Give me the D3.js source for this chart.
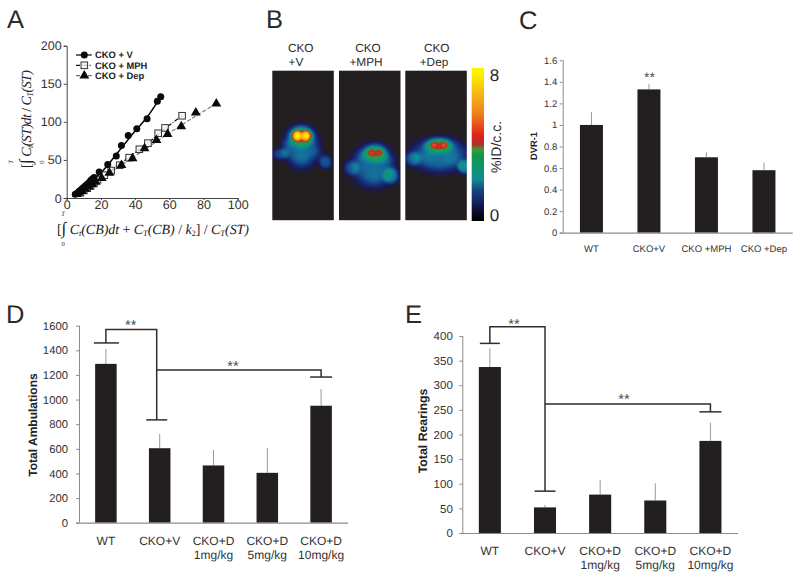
<!DOCTYPE html>
<html><head><meta charset="utf-8">
<script src="https://cdn.jsdelivr.net/npm/d3@7/dist/d3.min.js"></script>
<style>
html,body{margin:0;padding:0;background:#fff}
svg{display:block}
text{font-family:"Liberation Sans",Arial,sans-serif;fill:#333;text-rendering:geometricPrecision}
.math text,text.math{font-family:"Liberation Serif",serif;fill:#222}
</style></head><body>
<svg id="c" width="800" height="579"></svg>
<script>
// Panel A
const ticksAx=[0,20,40,60,80,100], ticksAy=[0,50,100,150,200];
const seriesA=["CKO + V","CKO + MPH","CKO + Dep"];
const ptsV=[[55,133],[53,127],[47,104],[41,91],[36,82],[32,69],[29,55],[24,44],[19,34],[16,27],[15,25],[14,23],[13,20],[12,18],[11,16],[10,14],[9,12],[8,10],[7,8],[6,6],[5,5]];
const ptsM=[[67.5,108],[57.5,92],[53.5,85],[47.5,72],[42.5,64],[36.5,53],[31,43],[26,36],[22,30],[18,24],[16,20],[14,16],[12,13],[10,10],[8,7]];
const ptsD=[[87.5,124],[75.5,112],[67,94],[59,84],[52.5,76],[45.5,65],[38.5,52],[32,43],[25,33],[20.5,26],[17,21],[15,18],[13,15],[11,12],[9,9],[7,7],[6,5]];
const lineV=[[5,5],[20,33],[30,60],[40,88],[47,106],[55,133]];
const lineM=[[7,6],[20,26],[36,53],[48,73],[58,92],[67.5,108]];
const lineD=[[6,5],[20,25],[38,52],[59,84],[75,107],[87.5,124]];
// Panel B: image-space blobs [x, y, rx, ry, level, sharpness]
const petTitles=[["CKO","+V"],["CKO","+MPH"],["CKO","+Dep"]];
const petBlobs=[
 [[24.4,64.6,4.5,5,.46,3],[33.7,64.6,4.5,5,.46,3],[29,65,11,6.5,.1,4],[29,65,12,11,.22,4],[29,76,18,20,.23,4],[29,90,9,9,.04,2],[20,62,8,7,.03,2],[8,83,8,5.5,.17,4],[53,91,6.5,7,.19,4],[45,82,6,6,.04,4],[14,74,6,6,.05,4]],
 [[31.7,81.3,3.3,3.2,.12,3],[40.3,81.3,3.3,3.2,.12,3],[36,81.5,9.5,5.5,.1,4],[36,82,12.5,9.5,.2,4],[34,95,21,21,.23,4],[37,108,10,8,.03,2],[12,97,8,7.5,.15,4],[52,105,8,8,.21,4],[22,85,6,6,.04,4],[48,88,6,6,.04,4]],
 [[28,73.6,3.2,2.8,.12,3],[38.7,73.6,3.2,2.8,.12,3],[33.3,73.8,10,5,.1,4],[33.3,74.3,14,8,.22,4],[34,84,28,17,.24,4],[20,85,9,6,.03,2],[7,88,8,7,.16,4],[59,96,7,7,.26,4],[46,88,8,6,.03,4]]
];
const cbarStops=[0,.06,.14,.22,.3,.38,.47,.52,.58,.7,.85,1];
const cbarColors=["#231f20","#1a1a55","#15367f","#17649a","#0f8f96","#0f9d60","#2aa14a","#a8362c","#e2231a","#ee8a1c","#f9c20a","#fff200"];
const cbarLabels=["0","8"];
// Panel C
const catC=["WT","CKO+V","CKO +MPH","CKO +Dep"];
const valC=[1,1.33,.70,.58], errC=[1.12,1.38,.745,.65];
const ticksC=[0,.2,.4,.6,.8,1,1.2,1.4,1.6];
// Panel D / E
const catDE=[["WT"],["CKO+V"],["CKO+D","1mg/kg"],["CKO+D","5mg/kg"],["CKO+D","10mg/kg"]];
const valD=[1290,605,465,405,950], errD=[1410,720,590,605,1085];
const ticksD=[0,200,400,600,800,1000,1200,1400,1600];
const valE=[337,52,78,66,187], errE=[375,57,108,101,224];
const ticksE=[0,50,100,150,200,250,300,350,400];

const svg=d3.select("#c");
const GREY="#8c8c8c",BAR="#231f20";

function letter(t,x,y){svg.append("text").attr("x",x).attr("y",y).attr("font-size",25.5).style("fill","#2a2a2a").text(t);}
letter("A",7,28);letter("B",266,28);letter("C",519,29);letter("D",6,323);letter("E",405,323);

/* ---------- A ---------- */
(function(){
 const x=d3.scaleLinear().domain([0,100]).range([66.7,237.7]);
 const y=d3.scaleLinear().domain([0,200]).range([198,45.7]);
 const g=svg.append("g");
 const ax=g.append("g").attr("transform","translate(0,198)").call(d3.axisBottom(x).tickValues(ticksAx).tickSize(2).tickPadding(0));
 const ay=g.append("g").attr("transform","translate(66.7,0)").call(d3.axisLeft(y).tickValues(ticksAy).tickSize(3).tickPadding(2));
 [ax,ay].forEach(a=>{a.selectAll("path,line").attr("stroke","#444").attr("stroke-width",1);a.selectAll("text").attr("font-size",12.5).style("fill","#333").attr("font-family","Liberation Sans");});
 const ln=d3.line().x(d=>x(d[0])).y(d=>y(d[1])).curve(d3.curveCatmullRom);
 g.append("path").attr("d",ln(lineD)).attr("fill","none").attr("stroke","#4f7f66").attr("stroke-width",1.1).attr("stroke-dasharray","4 2");
 g.append("path").attr("d",ln(lineM)).attr("fill","none").attr("stroke","#111").attr("stroke-width",1.2).attr("stroke-dasharray","4 1.5 1 1.5");
 g.append("path").attr("d",ln(lineV)).attr("fill","none").attr("stroke","#000").attr("stroke-width",1.5);
 const tri=d3.symbol().type(d3.symbolTriangle).size(42)();
 const sq=(s,px,py)=>s.append("rect").attr("x",px-3.3).attr("y",py-3.3).attr("width",6.6).attr("height",6.6).attr("fill","#f4f4f4").attr("fill-opacity",.8).attr("stroke","#333").attr("stroke-width",1);
 ptsM.forEach(d=>sq(g,x(d[0]),y(d[1])));
 g.selectAll(".t").data(ptsD).join("path").attr("d",tri).attr("fill","#0a0a0a").attr("transform",d=>`translate(${x(d[0])},${y(d[1])})`);
 g.selectAll(".c").data(ptsV).join("circle").attr("cx",d=>x(d[0])).attr("cy",d=>y(d[1])).attr("r",3.5).attr("fill","#0a0a0a");
 // legend
 const ly=[55,65.3,75.7];
 const dash=[null,"4 1.5 1 1.5","4 2"], col=["#000","#111","#4f7f66"];
 seriesA.forEach((s,i)=>{
  g.append("line").attr("x1",76).attr("x2",91.7).attr("y1",ly[i]).attr("y2",ly[i]).attr("stroke",col[i]).attr("stroke-width",1.2).attr("stroke-dasharray",dash[i]);
  if(i==0)g.append("circle").attr("cx",84.3).attr("cy",ly[i]).attr("r",3.5).attr("fill","#0a0a0a");
  if(i==1)sq(g,84.3,ly[i]);
  if(i==2)g.append("path").attr("d",tri).attr("fill","#0a0a0a").attr("transform",`translate(84.3,${ly[i]})`);
  g.append("text").attr("x",95).attr("y",ly[i]+3.3).attr("font-size",9.4).attr("font-weight","bold").style("fill","#222").text(s);
 });
 // x-axis math label
 const FS=14;
 const m=svg.append("g").attr("class","math");
 const t=m.append("text").attr("x",57).attr("y",233.5).attr("font-size",FS).attr("textLength",192).attr("lengthAdjust","spacing");
 const add=(tx,o={})=>{const s=t.append("tspan").text(tx);if(o.i)s.attr("font-style","italic");if(o.d)s.attr("dy",o.d).attr("font-size",o.s||8.5);if(o.fs)s.attr("font-size",o.fs);return s;};
 add("[");add("\u222B",{fs:17});add(" C",{i:1});add("t",{i:1,d:2});add("(CB)",{i:1,d:-2,s:FS});add("dt",{i:1});add(" + ");add("C",{i:1});add("T",{i:1,d:2});add("(CB)",{i:1,d:-2,s:FS});add(" / ");add("k",{i:1});add("2",{d:2});add("] / ",{d:-2,s:FS});add("C",{i:1});add("T",{i:1,d:2});add("(ST)",{i:1,d:-2,s:FS});
 m.append("text").attr("x",63).attr("y",216).attr("font-size",6.5).attr("font-style","italic").attr("text-anchor","middle").text("T");
 m.append("text").attr("x",63).attr("y",246).attr("font-size",6.5).attr("text-anchor","middle").text("0");
 // y-axis math label
 const ty=m.append("text").attr("transform","translate(31,168) rotate(-90)").attr("font-size",FS).attr("textLength",98).attr("lengthAdjust","spacing");
 const addy=(tx,o={})=>{const s=ty.append("tspan").text(tx);if(o.i)s.attr("font-style","italic");if(o.d)s.attr("dy",o.d).attr("font-size",o.s||8.5);if(o.fs)s.attr("font-size",o.fs);return s;};
 addy("[");addy("\u222B",{fs:17});addy(" C",{i:1});addy("t",{i:1,d:2});addy("(ST)",{i:1,d:-2,s:FS});addy("dt",{i:1});addy(" / ");addy("C",{i:1});addy("T",{i:1,d:2});addy("(ST)",{i:1,d:-2,s:FS});
 m.append("text").attr("transform","translate(13,162) rotate(-90)").attr("font-size",6.5).attr("font-style","italic").attr("text-anchor","middle").text("T");
 m.append("text").attr("transform","translate(44,162) rotate(-90)").attr("font-size",6.5).attr("text-anchor","middle").text("0");
})();

/* ---------- B ---------- */
(function(){
 const color=d3.scaleLinear().domain(cbarStops).range(cbarColors).clamp(true);
 const left=[272.3,339,405.3],top=70.7,W=61.5,H=149.5;
 const titleX=[[300.7,296],[368,366],[436.7,434]];
 petBlobs.forEach((blobs,i)=>{
  const cv=document.createElement("canvas");cv.width=W*2;cv.height=H*2;
  const c=cv.getContext("2d"),im=c.createImageData(cv.width,cv.height);
  const px=d3.scaleLinear().domain([0,cv.width]).range([0,W]),py=d3.scaleLinear().domain([0,cv.height]).range([0,H]);
  for(let j=0;j<cv.height;j++)for(let k=0;k<cv.width;k++){
   let f=0;
   blobs.forEach(b=>{const dx=(px(k)-b[0])/b[2],dy=(py(j)-b[1])/b[3];f+=b[4]*Math.exp(-Math.pow(dx*dx+dy*dy,b[5]/2));});
   const q=d3.rgb(color(f<.012?0:f)),n=(k+j*cv.width)*4;
   im.data[n]=q.r;im.data[n+1]=q.g;im.data[n+2]=q.b;im.data[n+3]=255;
  }
  c.putImageData(im,0,0);
  svg.append("image").attr("href",cv.toDataURL()).attr("x",left[i]).attr("y",top).attr("width",W).attr("height",H);
  petTitles[i].forEach((s,l)=>svg.append("text").attr("x",titleX[i][l]).attr("y",52+l*14).attr("text-anchor","middle").attr("font-size",11.8).style("fill","#2a2a2a").text(s));
 });
 // colour bar
 const cv=document.createElement("canvas");cv.width=1;cv.height=153;
 const c=cv.getContext("2d"),s=d3.scaleLinear().domain([0,152]).range([1,0]);
 const barCol=d3.scaleLinear().domain([0,.05,.12,.2,.27,.34,.43,.47,.5,.56,.7,.85,.97]).range(["#000","#0a0a22","#14205e","#16467f","#128a92","#0f9470","#12974a","#3f9a3c","#b0302a","#e0231c","#ee7f1c","#f8bd12","#fff200"]).clamp(true);
 for(let j=0;j<153;j++){c.fillStyle=barCol(s(j));c.fillRect(0,j,1,1);}
 svg.append("image").attr("href",cv.toDataURL()).attr("x",471.7).attr("y",68).attr("width",12.3).attr("height",153).attr("preserveAspectRatio","none");
 svg.append("text").attr("x",494.5).attr("y",81).attr("text-anchor","middle").attr("font-size",17).style("fill","#2a2a2a").text(cbarLabels[1]);
 svg.append("text").attr("x",494.5).attr("y",221).attr("text-anchor","middle").attr("font-size",17).style("fill","#2a2a2a").text(cbarLabels[0]);
 svg.append("text").attr("transform","translate(500.5,147) rotate(-90)").attr("text-anchor","middle").attr("font-size",14).style("fill","#2a2a2a").text("%ID/c.c.");
})();

/* ---------- bar helper ---------- */
function bars(o){
 const g=svg.append("g");
 const y=d3.scaleLinear().domain(o.dom).range([o.y0,o.y1]);
 const x=d3.scaleBand().domain(o.cats.map((d,i)=>i)).range(o.xr).paddingInner(o.pad).paddingOuter(o.pad/2);
 const cxf=i=>x(i)+x.bandwidth()/2;
 o.err.forEach((e,i)=>{
  g.append("line").attr("x1",cxf(i)).attr("x2",cxf(i)).attr("y1",y(o.vals[i])).attr("y2",y(e)).attr("stroke","#999").attr("stroke-width",1);
 });
 g.selectAll("rect").data(o.vals).join("rect").attr("x",(d,i)=>x(i)).attr("width",x.bandwidth()).attr("y",d=>y(d)).attr("height",d=>o.y0-y(d)).attr("fill",BAR);
 const ay=g.append("g").attr("transform",`translate(${o.xr[0]},0)`).call(d3.axisLeft(y).tickValues(o.ticks).tickSize(3).tickPadding(o.tp).tickFormat(d3.format("~g")));
 ay.selectAll("path,line").attr("stroke",GREY).attr("stroke-width",1);
 ay.select("path").attr("d",`M0.5,${o.y0}V${o.y1}`);
 ay.selectAll("text").attr("font-size",o.fs).style("fill","#333").attr("font-family","Liberation Sans");
 g.append("line").attr("x1",o.xr[0]-3).attr("x2",o.xr[1]).attr("y1",o.y0+.5).attr("y2",o.y0+.5).attr("stroke",GREY).attr("stroke-width",1.2);
 o.cats.forEach((c,i)=>{[].concat(c).forEach((s,l)=>g.append("text").attr("x",cxf(i)).attr("y",o.ly+l*o.lh).attr("text-anchor","middle").attr("font-size",o.lfs).style("fill","#333").text(s));});
 g.append("text").attr("transform",`translate(${o.tx},${o.ty}) rotate(-90)`).attr("text-anchor","middle").attr("font-size",o.tfs).attr("font-weight","bold").style("fill","#222").text(o.title);
 return {x:cxf,y};
}
const br=(a)=>svg.append("path").attr("d",d3.line().x(d=>d[0]).y(d=>d[1])(a)).attr("fill","none").attr("stroke","#2e2e2e").attr("stroke-width",1.5);
function stars(x,y,fs){svg.append("text").attr("x",x).attr("y",y).attr("text-anchor","middle").attr("font-size",fs||14.5).style("fill","#4a4a4a").text("**");}

/* ---------- C ---------- */
(function(){
 bars({dom:[0,1.6],y0:232.7,y1:60.3,cats:catC,xr:[562.7,792.7],pad:.6,vals:valC,err:errC,ticks:ticksC,fs:9.5,lfs:9.5,tp:2.5,ly:252,lh:12,title:"DVR-1",tx:537,ty:146,tfs:9.4});
 stars(649.5,82,14);
})();

/* ---------- D ---------- */
(function(){
 const s=bars({dom:[0,1600],y0:522.7,y1:325.7,cats:catDE,xr:[79,348],pad:.6,vals:valD,err:errD,ticks:ticksD,fs:11.3,lfs:12,tp:8,ly:545,lh:14.3,title:"Total Ambulations",tx:37,ty:425,tfs:12});
 const sy=s.y, xc=i=>s.x(i), off=-3;
 br([[xc(0),sy(1460)],[xc(0),sy(1570)],[xc(1)+off,sy(1570)],[xc(1)+off,sy(835)]]);
 br([[xc(1)+off,sy(1240)],[xc(4),sy(1240)],[xc(4),sy(1183)]]);
 br([[xc(0)-12,sy(1460)],[xc(0)+13,sy(1460)]]);
 br([[xc(1)+off-10.5,sy(835)],[xc(1)+off+10.5,sy(835)]]);
 br([[xc(4)-11,sy(1183)],[xc(4)+11,sy(1183)]]);
 stars(130.7,330);stars(233,371);
})();

/* ---------- E ---------- */
(function(){
 const s=bars({dom:[0,400],y0:533,y1:336,cats:catDE,xr:[462.3,738],pad:.6,vals:valE,err:errE,ticks:ticksE,fs:11.5,lfs:12,tp:6.5,ly:555,lh:14.3,title:"Total Rearings",tx:427,ty:431,tfs:12.3});
 const sy=s.y, xc=i=>s.x(i);
 br([[xc(0),sy(385)],[xc(0),sy(419)],[xc(1),sy(419)],[xc(1),sy(85)]]);
 br([[xc(1),sy(262)],[xc(4),sy(262)],[xc(4),sy(246)]]);
 br([[xc(0)-10,sy(385)],[xc(0)+10,sy(385)]]);
 br([[xc(1)-10.5,sy(85)],[xc(1)+10.5,sy(85)]]);
 br([[xc(4)-11,sy(246)],[xc(4)+11,sy(246)]]);
 stars(514,329);stars(624,404);
})();
</script>
</body></html>
